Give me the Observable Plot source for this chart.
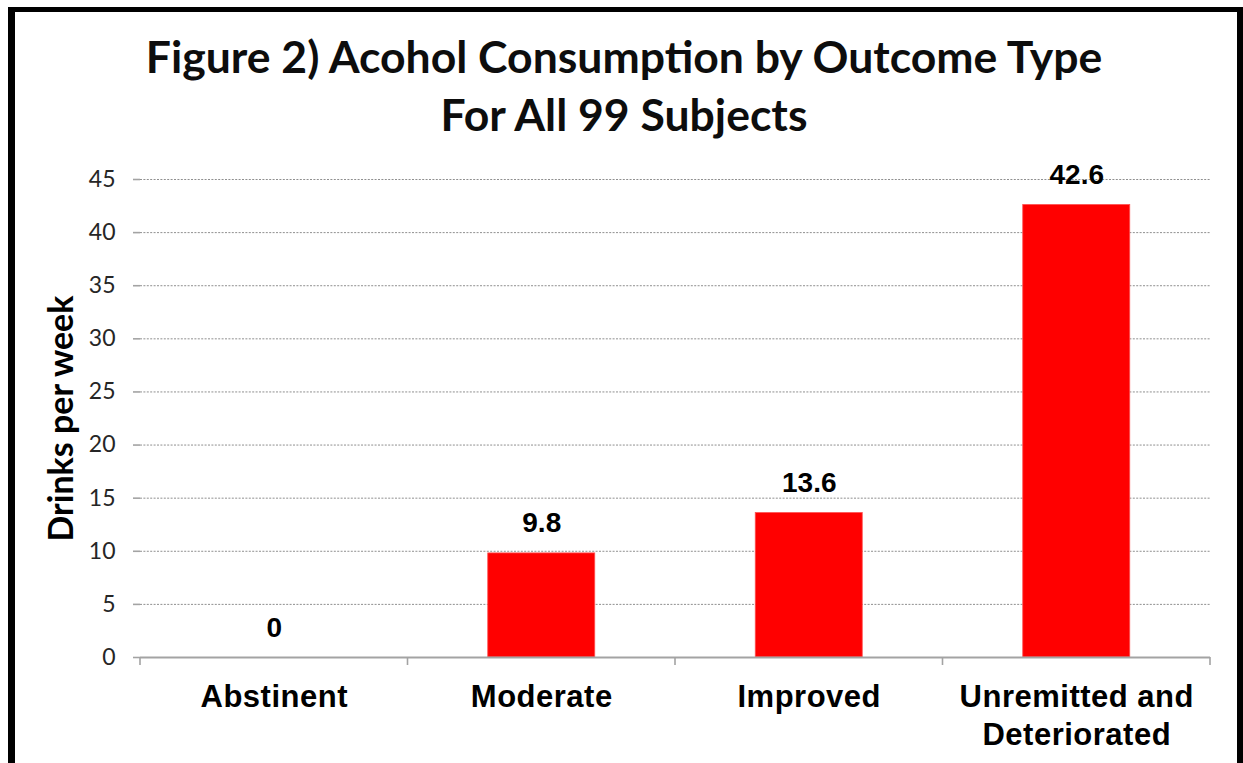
<!DOCTYPE html>
<html>
<head>
<meta charset="utf-8">
<script src="https://cdn.jsdelivr.net/npm/d3@7"></script>
<script src="https://cdn.jsdelivr.net/npm/@observablehq/plot@0.6"></script>
<style>
  html, body { margin: 0; padding: 0; background: #fff; width: 1243px; height: 763px; overflow: hidden; }
  #frame { position: absolute; left: 8px; top: 7px; width: 1235px; height: 820px; box-sizing: border-box;
           border-left: 7px solid #000; border-top: 5px solid #000; border-right: 6px solid #000; z-index: 5; pointer-events: none; }
  #title { position: absolute; left: 0; top: 27px; width: 1248px; text-align: center; font-family: Lato, sans-serif;
           font-weight: 700; font-size: 44.5px; line-height: 58px; color: #0d0d0d; z-index: 3; }
  #chart { position: absolute; left: 0; top: 0; }
  #chart svg [aria-label="y-axis tick label"] text { fill: #262626; }
  #chart svg [aria-label="x-axis tick label"] text { letter-spacing: 0.5px; }
</style>
</head>
<body>
<div id="frame"></div>
<div id="title">Figure 2) Acohol Consumption by Outcome Type<br>For All 99 Subjects</div>
<div id="chart"></div>
<script>
const categories = ["Abstinent", "Moderate", "Improved", "Unremitted and Deteriorated"];
const categoryLabels = ["Abstinent", "Moderate", "Improved", "Unremitted and\nDeteriorated"];
const values = [0, 9.8, 13.6, 42.6];
const valueLabels = ["0", "9.8", "13.6", "42.6"];
const yTicks = [0, 5, 10, 15, 20, 25, 30, 35, 40, 45];
const yLabel = "Drinks per week";

const data = categories.map((c, i) => ({category: c, value: values[i], label: valueLabels[i]}));
const axisGray = "#a3a3a3";

const chart = Plot.plot({
  width: 1243,
  height: 763,
  marginLeft: 140,
  marginRight: 33,
  marginTop: 179,
  marginBottom: 106,
  style: {background: "transparent", overflow: "visible"},
  x: {domain: categories, paddingInner: 0.6, paddingOuter: 0.3, round: false},
  y: {domain: [0, 45]},
  marks: [
    Plot.gridY(yTicks.filter(d => d > 0), {stroke: "#8f8f8f", strokeOpacity: 1, strokeWidth: 1, strokeDasharray: "2,1.4"}),
    Plot.barY(data, {x: "category", y: "value", fill: "#ff0000", stroke: "#ff5050", strokeWidth: 0.8}),
    Plot.ruleY([0], {stroke: axisGray, strokeWidth: 2}),
    Plot.axisY({ticks: yTicks, tickSize: 7, tickPadding: 18, line: true, color: axisGray, strokeWidth: 1.6,
                fontSize: 23, fontFamily: "Lato, sans-serif", label: null}),
    Plot.axisX({tickSize: 0, tickPadding: 22, tickFormat: (d, i) => categoryLabels[categories.indexOf(d)],
                fontSize: 31, fontWeight: "bold", fontFamily: "'Liberation Sans', Arial, sans-serif",
                lineHeight: 1.23, fill: "#000", label: null}),
    Plot.text(data, {x: "category", y: "value", text: "label", lineAnchor: "bottom", dy: -21,
                     fontSize: 28, fontWeight: "bold", fontFamily: "'Liberation Sans', Arial, sans-serif", fill: "#000"}),
    Plot.text([yLabel], {frameAnchor: "left", textAnchor: "middle", rotate: -90, dx: -78, fontSize: 34, fontWeight: "bold",
                         fontFamily: "Lato, sans-serif", fill: "#000"})
  ]
});

document.getElementById("chart").appendChild(chart);

// category boundary tick marks on the x axis, derived from the band scale
const xs = chart.scale("x");
const ys = chart.scale("y");
const step = xs.bandwidth / (1 - xs.paddingInner);
const gap = (step - xs.bandwidth) / 2;
const boundaries = categories.map(c => xs.apply(c) - gap);
boundaries.push(xs.apply(categories[categories.length - 1]) + xs.bandwidth + gap);
const y0 = ys.apply(0);
d3.select(chart).append("g")
  .attr("stroke", axisGray).attr("stroke-width", 1.6)
  .selectAll("line").data(boundaries).join("line")
  .attr("x1", d => d).attr("x2", d => d)
  .attr("y1", y0).attr("y2", y0 + 8);
</script>
</body>
</html>
